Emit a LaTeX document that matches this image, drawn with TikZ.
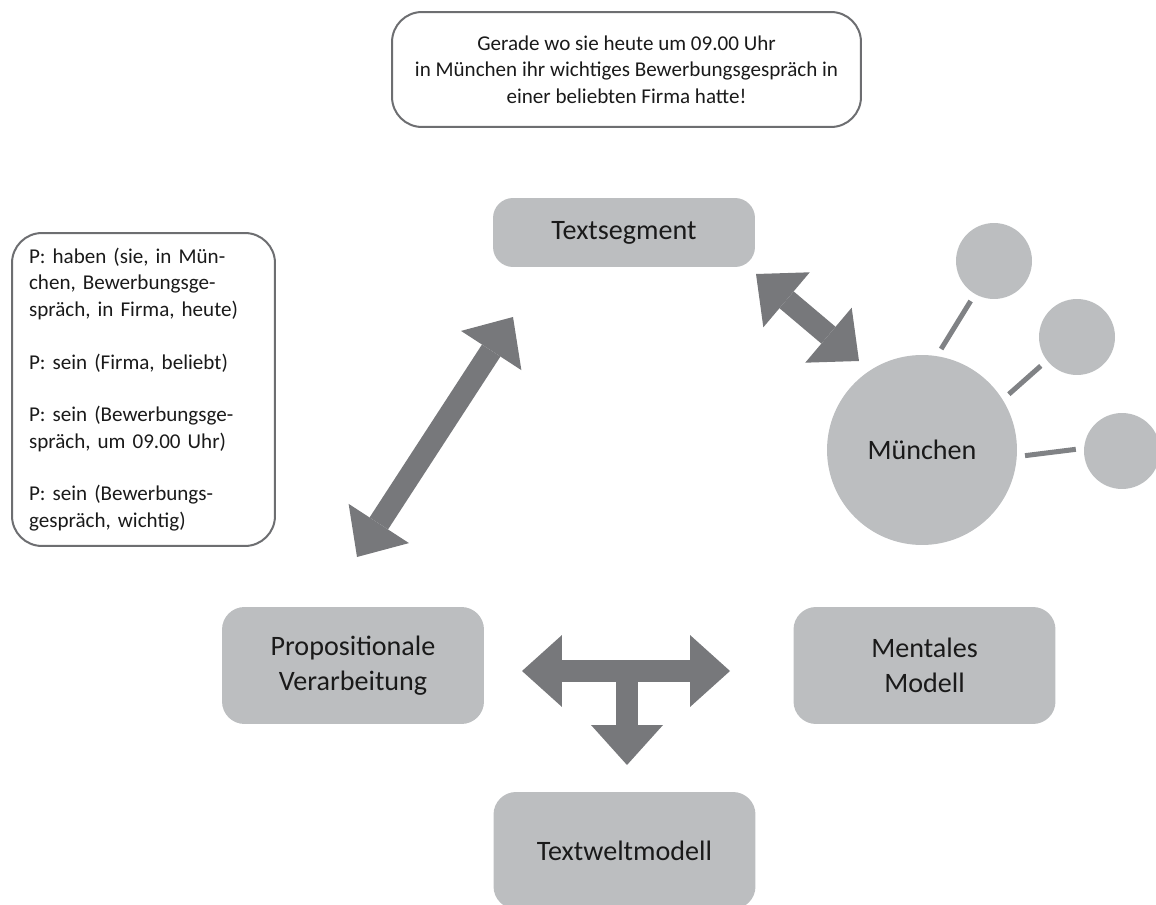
\documentclass[tikz,border=0pt]{standalone}
\usepackage{fontspec}
\setmainfont{Carlito}
\usetikzlibrary{arrows.meta}

\definecolor{boxgrey}{HTML}{BCBEC0}
\definecolor{arrowgrey}{HTML}{77787B}
\definecolor{linkgrey}{HTML}{808285}
\definecolor{framegrey}{HTML}{6D6E71}
\definecolor{inkgrey}{HTML}{1A1A1A}

\tikzset{
  stage/.style={fill=boxgrey, rounded corners=0.45cm, minimum width=5.24cm, minimum height=2.34cm,
    align=center, text=inkgrey, font=\fontsize{16}{20}\selectfont},
  note/.style={draw=framegrey, line width=0.04cm, rounded corners=0.6cm, text=inkgrey,
    font=\fontsize{12}{15}\selectfont},
  concept/.style={circle, fill=boxgrey, inner sep=0pt, minimum size=1.52cm},
  bigarrow/.style={draw=arrowgrey, line width=0.44cm},
  link/.style={draw=linkgrey, line width=0.1cm, shorten <=0.16cm, shorten >=0.16cm}
}

\begin{document}
\begin{tikzpicture}[x=0.02cm, y=-0.02cm,
    >={Triangle[length=0.8cm, width=1.44cm, line width=0pt]}]
    \useasboundingbox (0,0) rectangle (1156,905);

    % example sentence and propositions
    \node[note, minimum width=9.38cm, minimum height=2.3cm, align=center] (sentence) at (626.5,69.5)
      {Gerade wo sie heute um 09.00 Uhr\\
       in München ihr wichtiges Bewerbungsgespräch in\\
       einer beliebten Firma hatte!};
    \node[note, minimum height=6.26cm, inner xsep=0.34cm, text width=4.58cm, align=left] (props) at (143.5,389.5)
      {P: haben (sie, in Mün-\\
       chen, Bewerbungsge-\\
       spräch, in Firma, heute)\\[15pt]
       P: sein (Firma, beliebt)\\[15pt]
       P: sein (Bewerbungsge-\\
       spräch, um 09.00 Uhr)\\[15pt]
       P: sein (Bewerbungs-\\
       gespräch, wichtig)};

    % levels
    \node[stage, minimum height=1.38cm, rounded corners=0.4cm] (segment) at (624,232.5) {Textsegment};
    \node[stage] (prop) at (353,665.5) {Propositionale\\Verarbeitung};
    \node[stage] (mental) at (924.5,665.5) {Mentales\\Modell};
    \node[stage] (world) at (624.5,850.5) {Textweltmodell};

    % concept net
    \node[concept, minimum size=3.8cm, text=inkgrey, font=\fontsize{16}{20}\selectfont] (muc) at (922,450) {München};
    \node[concept] (c1) at (994,261) {};
    \node[concept] (c2) at (1077,337) {};
    \node[concept] (c3) at (1122,451) {};
    \draw[link] (muc.81) -- (c1.240);
    \draw[link] (muc.32) -- (c2.218);
    \draw[link] (muc.-4) -- (c3.176);

    % arrows
    \coordinate (segA) at (756,274);
    \coordinate (mucA) at (859,361);
    \coordinate (propA) at (357,557);
    \coordinate (segB) at (513,317);
    \coordinate (propB) at (522,671);
    \coordinate (mentalA) at (730,671);
    \coordinate (fork) at (627,671);
    \coordinate (worldA) at (627,765);
    \draw[bigarrow, <->] (segA) -- (mucA);
    \draw[bigarrow, <->] (propA) -- (segB);
    \draw[bigarrow, <->] (propB) -- (mentalA);
    \draw[bigarrow, ->] (fork) -- (worldA);
\end{tikzpicture}
\end{document}
